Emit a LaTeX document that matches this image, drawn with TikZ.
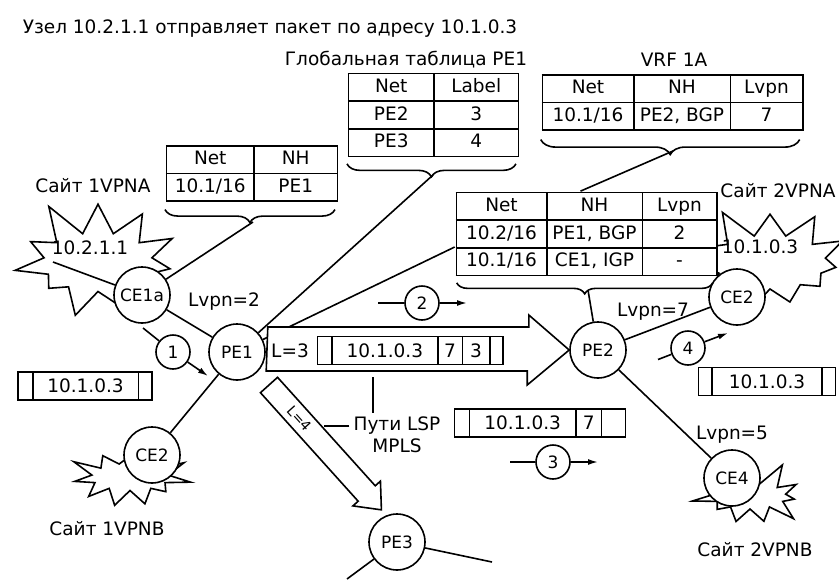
\documentclass[tikz,border=0pt]{standalone}
\usepackage{fontspec}
\setmainfont{DejaVu Sans}
\usepackage{array}
\usetikzlibrary{shapes,arrows,arrows.meta,positioning,calc,decorations.pathreplacing}
\newcolumntype{C}[1]{>{\centering\arraybackslash}p{#1}}
\setlength{\tabcolsep}{0pt}
\setlength{\arrayrulewidth}{1.5pt}
\newcommand{\pcell}[2]{\hbox to #1{\hss #2\hss}}

\begin{document}
\begin{tikzpicture}[x=1pt, y=-1pt, line width=1.6pt,
    every node/.style={font=\fontsize{18.5}{21}\selectfont},
    router/.style={draw, circle, fill=white, minimum size=56pt, inner sep=0pt,
                   font=\fontsize{17}{20}\selectfont},
    stepc/.style={draw, circle, fill=white, minimum size=34pt, inner sep=0pt,
                  font=\fontsize{17}{20}\selectfont},
    site/.style={draw, starburst, fill=white, inner sep=0pt},
    tbl/.style={fill=white, inner sep=0pt, execute at begin node=\def\arraystretch{1.24}},
    pkt/.style={draw, fill=white, rectangle split, rectangle split horizontal,
                minimum height=28pt, inner xsep=0pt, inner ysep=0pt},
    brc/.style={decorate, decoration={brace, mirror, amplitude=13pt}},
    >={Latex[length=10pt,width=6pt]}]
    \useasboundingbox (0,0) rectangle (839,579);

    % titles
    \node (title) at (270,29) {Узел 10.2.1.1 отправляет пакет по адресу 10.1.0.3};
    \node (gtitle) at (406,60) {Глобальная таблица PE1};
    \node (vtitle) at (674,60) {VRF 1A};

    % sites
    \node[site, minimum width=185pt, minimum height=135pt, starburst points=11,
          starburst point height=38pt, random starburst=11] (sbA) at (98,262) {};
    \node (hA) at (90,248) {10.2.1.1};
    \node[site, minimum width=180pt, minimum height=122pt, starburst points=11,
          starburst point height=34pt, random starburst=5] (sbB) at (770,262) {};
    \node (hB) at (760,247) {10.1.0.3};
    \node[site, minimum width=125pt, minimum height=75pt, starburst points=11,
          starburst point height=24pt, random starburst=3] (sbC) at (130,477) {};
    \node[site, minimum width=120pt, minimum height=74pt, starburst points=11,
          starburst point height=24pt, random starburst=9] (sbD) at (750,496) {};
    \node (nA) at (93,186) {Сайт 1VPNA};
    \node (nB) at (778,191) {Сайт 2VPNA};
    \node (nC) at (107,529) {Сайт 1VPNB};
    \node (nD) at (755,550) {Сайт 2VPNB};

    % routers
    \node[router] (ce1a) at (142,295) {CE1a};
    \node[router] (pe1) at (237,352) {PE1};
    \node[router] (ce2b) at (152,455) {CE2};
    \node[router] (pe2) at (598,350) {PE2};
    \node[router] (ce2a) at (737,297) {CE2};
    \node[router] (ce4) at (732,478) {CE4};
    \node[router] (pe3) at (397,542) {PE3};

    % tables
    \node[tbl] (tce) at (252,173.5) {\begin{tabular}{|C{86pt}|C{82pt}|}\hline
        Net & NH\\\hline 10.1/16 & PE1\\\hline\end{tabular}};
    \node[tbl] (tglob) at (433.5,115) {\begin{tabular}{|C{84pt}|C{83pt}|}\hline
        Net & Label\\\hline PE2 & 3\\\hline PE3 & 4\\\hline\end{tabular}};
    \node[tbl] (tvrf) at (672.5,102.5) {\begin{tabular}{|C{90pt}|C{95pt}|C{71pt}|}\hline
        Net & NH & Lvpn\\\hline 10.1/16 & PE2, BGP & 7\\\hline\end{tabular}};
    \node[tbl] (tpe2) at (586.5,234) {\begin{tabular}{|C{89pt}|C{94pt}|C{73pt}|}\hline
        Net & NH & Lvpn\\\hline 10.2/16 & PE1, BGP & 2\\\hline
        10.1/16 & CE1, IGP & -\\\hline\end{tabular}};

    % braces
    \draw[brc] (tce.south west) ++(0,7) -- ++(170,0);
    \coordinate (btA) at (253,222);
    \draw[brc] (tglob.south west) ++(0,6) -- ++(169,0);
    \coordinate (btG) at (433,175);
    \draw[brc, decoration={amplitude=15pt}] (tvrf.south west) ++(0,8) -- ++(259,0);
    \coordinate (btV) at (673,151);
    \draw[brc, decoration={amplitude=11pt}] (tpe2.south west) ++(2,6) -- ++(256,0);
    \coordinate (btL) at (588,290);

    % links
    \coordinate (h1) at (53,262);
    \draw (h1) -- (ce1a);
    \draw (btA) -- (ce1a);
    \draw (ce1a) -- (pe1);
    \draw (pe1) -- (ce2b);
    \draw (btG) -- (pe1);
    \draw (pe1) -- ([yshift=-13pt]tpe2.west);
    \draw (btV) -- ([xshift=-6pt]tpe2.north);
    \draw (btL) -- (pe2);
    \draw (pe2) -- (ce2a);
    \draw (pe2) -- (ce4);
    \coordinate (e3a) at (492,562);
    \coordinate (e3b) at (347,579);
    \draw (pe3) -- (e3a);
    \draw (pe3) -- (e3b);
    \node (lv2) at (224,302) {Lvpn=2};
    \node (lv7) at (653,312) {Lvpn=7};
    \node (lv5) at (732,435) {Lvpn=5};

    % LSP PE1 -> PE2
    \draw[fill=white] (pe1.east) ++(2,-25) -- ++(261,0) -- ++(0,-12) -- (pe2.west)
        -- ++(-42,35) -- ++(0,-14) -- ++(-261,0) -- cycle;
    \node (l3) at (290,351) {L=3};
    \node[pkt, rectangle split parts=5] (pk2) at (410,350.5) {\pcell{14pt}{}
        \nodepart{two}\pcell{104pt}{10.1.0.3}\nodepart{three}\pcell{23pt}{7}
        \nodepart{four}\pcell{26pt}{3}\nodepart{five}\pcell{12pt}{}};

    % LSP PE1 -> PE3
    \begin{scope}[shift={(269,385)}, rotate=-48]
        \draw[fill=white] (0,-11.5) -- (146,-11.5) -- (146,-18.5) -- (168,0)
            -- (146,18.5) -- (146,11.5) -- (0,11.5) -- cycle;
        \node[rotate=-48, inner sep=0pt, font=\fontsize{14}{16}\selectfont] (l4) at (45,0) {L=4};
    \end{scope}

    \node (lsp) at (397,426) {Пути LSP};
    \node[below=-4pt of lsp] (mpls) {MPLS};
    \coordinate (lspA) at (373,377);
    \draw (lspA) -- (lspA |- lsp.north);
    \draw (lsp.west) -- ++(-25,0);

    % packets
    \node[pkt, rectangle split parts=3] (pk1) at (85,386) {\pcell{14pt}{}
        \nodepart{two}\pcell{104pt}{10.1.0.3}\nodepart{three}\pcell{13pt}{}};
    \node[pkt, rectangle split parts=4] (pk3) at (540,423) {\pcell{14pt}{}
        \nodepart{two}\pcell{105pt}{10.1.0.3}\nodepart{three}\pcell{24pt}{7}
        \nodepart{four}\pcell{23pt}{}};
    \node[pkt, rectangle split parts=3] (pk4) at (767,381.5) {\pcell{13pt}{}
        \nodepart{two}\pcell{108pt}{10.1.0.3}\nodepart{three}\pcell{13pt}{}};

    % steps
    \node[stepc] (s1) at (173,352) {1};
    \coordinate (s1a) at (143,328);
    \coordinate (s1b) at (208,376);
    \draw (s1a) -- (s1);
    \draw[->] (s1) -- (s1b);
    \node[stepc] (s2) at (422,303) {2};
    \coordinate (s2a) at (378,303);
    \coordinate (s2b) at (467,303);
    \draw (s2a) -- (s2);
    \draw[->] (s2) -- (s2b);
    \node[stepc] (s3) at (553,462) {3};
    \coordinate (s3a) at (510,462);
    \coordinate (s3b) at (598,462);
    \draw (s3a) -- (s3);
    \draw[->] (s3) -- (s3b);
    \node[stepc] (s4) at (688,348) {4};
    \coordinate (s4a) at (658,359.5);
    \coordinate (s4b) at (728,333);
    \draw (s4a) -- (s4);
    \draw[->] (s4) -- (s4b);
\end{tikzpicture}
\end{document}
